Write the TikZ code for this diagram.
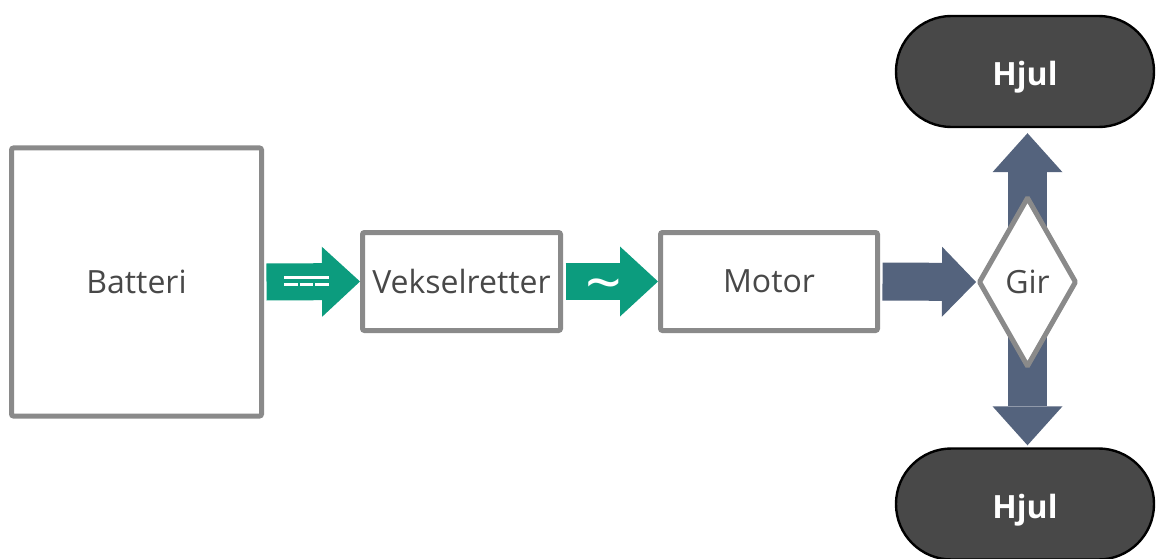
\documentclass[tikz,border=0pt]{standalone}
\usepackage{fontspec}
\setmainfont{Open Sans}
\usetikzlibrary{arrows.meta,shapes.geometric}
\definecolor{boxgray}{RGB}{138,138,138}
\definecolor{labelgray}{RGB}{72,72,72}
\definecolor{flowgreen}{RGB}{12,156,126}
\definecolor{flowblue}{RGB}{84,99,125}
\definecolor{wheelfill}{RGB}{72,72,72}
\tikzset{
  unitbox/.style={draw=boxgray,line width=2.5pt,rounded corners=1pt,fill=white,
    text=labelgray,font=\fontsize{16}{19}\selectfont,inner sep=0pt},
  wheelbox/.style={draw=black,line width=1.2pt,fill=wheelfill,rounded corners=27.7pt,
    minimum width=129pt,minimum height=55.5pt,text height=14.5pt,text depth=0pt,
    text=white,font=\fontsize{16}{19}\selectfont\bfseries},
  flowtip/.style={-{Triangle[length=#1,width=35pt,line width=0pt]}},
}
\newcommand{\dcsign}[1]{%
  \draw[white,line width=1.5pt] ([xshift=-11.25pt,yshift=2pt]#1) -- ++(45,0);
  \draw[white,line width=1.5pt,dash pattern=on 6.8pt off 1pt] ([xshift=-11.25pt,yshift=-1.2pt]#1) -- ++(45,0);}

\begin{document}
\begin{tikzpicture}[x=0.5pt,y=0.5pt]
\clip (0,0) rectangle (1156,558);
\node[unitbox,minimum width=125pt,minimum height=134pt] (batt) at (136.5,276) {Batteri};
\node[unitbox,minimum width=99pt,minimum height=49pt] (veksel) at (461.5,276.5) {Vekselretter};
\node[unitbox,minimum width=108.5pt,minimum height=49pt] (motor) at (769,276.5) {Motor};
\node[wheelbox] (hjulopp) at (1025,486.5) {Hjul};
\node[wheelbox] (hjulned) at (1025,54) {Hjul};
\coordinate (girsenter) at (1027.5,276);
% drive shafts go under the gear box
\draw[flowblue,line width=19.5pt,flowtip=19.5pt,shorten >=2.5pt] (girsenter) -- (girsenter |- hjulopp.south);
\draw[flowblue,line width=19.5pt,flowtip=19.5pt,shorten >=1pt] (girsenter) -- (girsenter |- hjulned.north);
\node[unitbox,shape=diamond,rounded corners=0.5pt,minimum width=49pt,minimum height=85pt] (gir) at (girsenter) {Gir};
\draw[flowgreen,line width=18.5pt,flowtip=19pt] ([xshift=1.25pt]batt.east) -- coordinate[pos=0.43] (likestrom) (veksel.west);
\dcsign{likestrom}
\draw[flowgreen,line width=18.5pt,flowtip=19pt] ([xshift=1.25pt]veksel.east) -- node[pos=0.41,yshift=-5.5pt,text=white,font=\fontsize{32}{32}\selectfont] (vekselstrom) {\textasciitilde} (motor.west);
\draw[flowblue,line width=19pt,flowtip=17pt] ([xshift=1.25pt]motor.east) -- (gir.west);
\end{tikzpicture}
\end{document}
